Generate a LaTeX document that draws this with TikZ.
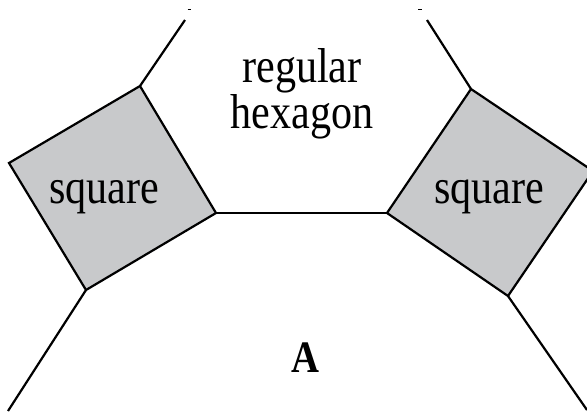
\documentclass[tikz,border=0pt]{standalone}
\usepackage{fontspec}
\setmainfont{Liberation Serif}[FakeStretch=0.86]
\definecolor{sqgrey}{RGB}{200,201,203}
\begin{document}
\begin{tikzpicture}[x=1pt,y=-1pt,
  edge/.style={line width=2.2pt,line join=miter,line cap=butt},
  tile/.style={edge,fill=sqgrey},
  lbl/.style={inner sep=0pt,anchor=base,font=\fontsize{49}{41}\selectfont},
  boldlbl/.style={inner sep=0pt,anchor=base,font=\fontsize{45}{45}\selectfont\bfseries}]
\useasboundingbox (0,0) rectangle (587,413);
\clip (0,0) rectangle (587,413);
% left square
\coordinate (L1) at (140,86);
\coordinate (L2) at (216,213);
\coordinate (L3) at (86,290);
\coordinate (L4) at (9,163);
% right square
\coordinate (R1) at (471,89);
\coordinate (R2) at (593,171);
\coordinate (R3) at (508,296);
\coordinate (R4) at (387,213);
% free ends
\coordinate (TL) at (185,20);
\coordinate (TR) at (427,20);
\coordinate (BL) at (8,411);
\coordinate (BR) at (587,410);
\coordinate (tl1) at (187.5,9.5);
\coordinate (tl2) at (191,9.5);
\coordinate (tr1) at (418,9.5);
\coordinate (tr2) at (421.5,9.5);
\filldraw[tile] (L1) -- (L2) -- (L3) -- (L4) -- cycle;
\filldraw[tile] (R1) -- (R2) -- (R3) -- (R4) -- cycle;
\draw[edge] (L2) -- (R4);
\draw[edge] (L1) -- (TL);
\draw[edge] (R1) -- (TR);
\draw[edge] (L3) -- (BL);
\draw[edge] (R3) -- (BR);
\draw[line width=1.2pt] (tl1) -- (tl2);
\draw[line width=1.2pt] (tr1) -- (tr2);
\node[lbl] (sqL) at (104,203) {square};
\node[lbl] (sqR) at (489,203) {square};
\node[lbl,align=center] (hexlbl) at (302,128) {regular\\hexagon};
\node[boldlbl] (A) at (305,372) {A};
\end{tikzpicture}
\end{document}
